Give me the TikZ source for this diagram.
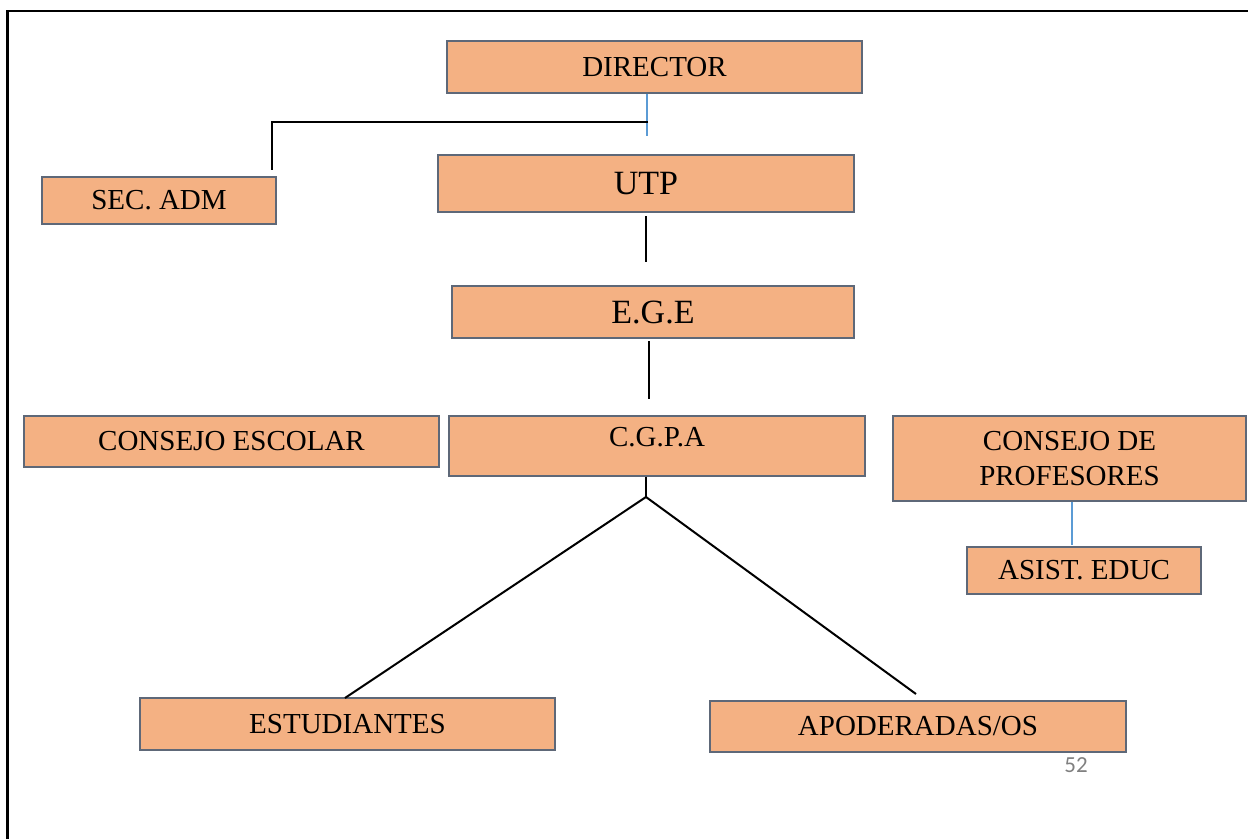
\documentclass[tikz,border=0pt]{standalone}
\usepackage{fontspec}
\setmainfont{Liberation Serif}
\newfontfamily\numfont{Carlito}
\definecolor{boxfill}{HTML}{F4B183}
\definecolor{boxedge}{HTML}{5E6878}
\definecolor{linkblue}{HTML}{5B9BD5}
\definecolor{pagegray}{HTML}{808080}
\tikzset{
  orgbox/.style={draw=boxedge, fill=boxfill, line width=1.2pt, inner sep=0pt, font=\fontsize{29}{35}\selectfont, align=center},
  bigtext/.style={font=\fontsize{34}{38}\selectfont},
  conn/.style={line width=2pt, black},
  bconn/.style={line width=1.4pt, linkblue},
}
\begin{document}
\begin{tikzpicture}[x=1pt,y=-1pt]
\useasboundingbox (0,0) rectangle (1248,839);
% page frame
\draw[line width=2.2pt] (7.5,839) -- (7.5,11) -- (1248,11);

\node[orgbox, minimum width=415pt, minimum height=52pt] (dir) at (654.5,67) {DIRECTOR};
\node[orgbox, minimum width=234pt, minimum height=47pt] (sec) at (159,200.5) {SEC. ADM};
\node[orgbox, bigtext, minimum width=416pt, minimum height=57pt] (utp) at (646,183.5) {UTP};
\node[orgbox, bigtext, minimum width=402pt, minimum height=52pt] (ege) at (653,312) {E.G.E};
\node[orgbox, minimum width=415pt, minimum height=51pt] (ces) at (231.5,441.5) {CONSEJO ESCOLAR};
\node[orgbox, minimum width=416pt, minimum height=60pt, text depth=18pt] (cgpa) at (657,446) {C.G.P.A};
\node[orgbox, minimum width=353pt, minimum height=85pt] (cdp) at (1069.5,458.5) {CONSEJO DE\\PROFESORES};
\node[orgbox, minimum width=234pt, minimum height=47pt] (asist) at (1084,570.5) {ASIST. EDUC};
\node[orgbox, minimum width=415pt, minimum height=52pt] (est) at (347.5,724) {ESTUDIANTES};
\node[orgbox, minimum width=416pt, minimum height=51pt] (apo) at (918,726.5) {APODERADAS/OS};
\node[font=\numfont\fontsize{23}{25}\selectfont, text=pagegray, inner sep=0pt] (pg) at (1076,765) {52};

% connectors
\coordinate (dj) at (647,136);
\draw[bconn] (dj |- dir.south) -- (dj);
\coordinate (hj) at (648,122);
\coordinate (sj) at (272,170);
\draw[conn] (hj) -| (sj);

\coordinate (u1) at (646,216);
\coordinate (u2) at (646,262);
\draw[conn] (u1) -- (u2);

\coordinate (e1) at (649,341);
\coordinate (e2) at (649,399);
\draw[conn] (e1) -- (e2);

\coordinate (fk) at (646,497);
\coordinate (ft) at (345,698);
\coordinate (fa) at (916,694);
\draw[conn] (fk |- cgpa.south) -- (fk);
\draw[conn] (ft) -- (fk) -- (fa);

\coordinate (pj) at (1072,545);
\draw[bconn] (pj |- cdp.south) -- (pj);
\end{tikzpicture}
\end{document}
